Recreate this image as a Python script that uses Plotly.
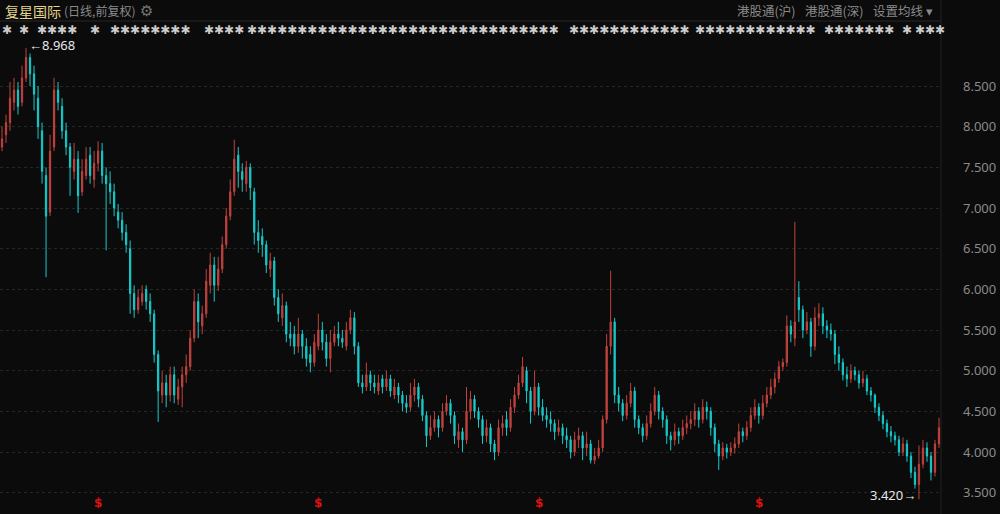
import plotly.graph_objects as go

# ---- data (one candle ≈ 4 trading days) ----
opens = [7.75, 7.90, 8.05, 8.30, 8.45, 8.30, 8.60, 8.85, 8.65, 8.35,
 7.95, 7.40, 6.95, 7.75, 8.45, 8.25, 7.95, 7.75, 7.45, 7.60,
 7.20, 7.40, 7.65, 7.35, 7.55, 7.70, 7.40, 7.30, 7.20, 6.95,
 6.85, 6.70, 6.50, 5.95, 5.75, 5.85, 6.00, 5.85, 5.70, 5.20,
 4.70, 4.85, 4.70, 4.95, 4.65, 4.80, 4.95, 5.05, 5.40, 5.85,
 5.55, 5.70, 6.05, 6.30, 6.05, 6.25, 6.55, 6.90, 7.20, 7.65,
 7.45, 7.30, 7.50, 7.20, 6.70, 6.65, 6.55, 6.25, 6.35, 5.90,
 5.65, 5.80, 5.45, 5.45, 5.30, 5.45, 5.30, 5.20, 5.10, 5.30,
 5.50, 5.35, 5.15, 5.35, 5.45, 5.40, 5.30, 5.50, 5.65, 5.30,
 4.85, 4.80, 4.95, 4.85, 4.75, 4.90, 4.80, 4.90, 4.70, 4.80,
 4.70, 4.60, 4.55, 4.70, 4.80, 4.65, 4.45, 4.20, 4.30, 4.40,
 4.30, 4.50, 4.60, 4.45, 4.15, 4.25, 4.15, 4.50, 4.65, 4.50,
 4.40, 4.20, 4.30, 4.10, 4.00, 4.30, 4.40, 4.30, 4.55, 4.70,
 4.85, 5.00, 4.75, 4.50, 4.80, 4.55, 4.45, 4.40, 4.35, 4.25,
 4.30, 4.20, 4.15, 4.00, 4.15, 4.20, 4.05, 4.10, 3.90, 3.95,
 4.05, 4.40, 5.30, 5.60, 4.70, 4.60, 4.45, 4.60, 4.75, 4.40,
 4.30, 4.20, 4.35, 4.50, 4.70, 4.50, 4.40, 4.20, 4.15, 4.25,
 4.20, 4.30, 4.35, 4.40, 4.50, 4.40, 4.55, 4.50, 4.30, 4.10,
 3.95, 4.05, 4.00, 4.05, 4.10, 4.25, 4.20, 4.30, 4.45, 4.55,
 4.45, 4.60, 4.70, 4.80, 4.90, 5.05, 5.10, 5.55, 5.40, 5.90,
 5.75, 5.50, 5.60, 5.30, 5.65, 5.70, 5.55, 5.50, 5.45, 5.20,
 5.10, 4.95, 4.90, 5.00, 4.95, 4.85, 4.90, 4.75, 4.70, 4.55,
 4.45, 4.35, 4.25, 4.20, 4.15, 4.00, 4.10, 3.95, 3.75, 3.60,
 3.85, 4.05, 3.95, 3.75, 4.10]

highs = [8.00, 8.15, 8.55, 8.60, 8.55, 8.75, 8.968, 8.90, 8.75, 8.50,
 8.05, 7.50, 7.90, 8.60, 8.55, 8.35, 8.05, 7.80, 7.80, 7.70,
 7.60, 7.75, 7.75, 7.70, 7.82, 7.80, 7.50, 7.45, 7.30, 7.05,
 6.95, 6.80, 6.60, 6.05, 6.00, 6.05, 6.05, 5.95, 5.75, 5.25,
 5.00, 4.95, 5.05, 5.05, 4.90, 5.05, 5.20, 5.50, 6.00, 5.95,
 5.80, 6.25, 6.45, 6.40, 6.40, 6.65, 7.00, 7.35, 7.84, 7.75,
 7.55, 7.58, 7.55, 7.25, 6.85, 6.75, 6.60, 6.45, 6.40, 6.00,
 5.95, 5.85, 5.60, 5.55, 5.65, 5.50, 5.40, 5.30, 5.45, 5.70,
 5.60, 5.45, 5.50, 5.55, 5.60, 5.50, 5.60, 5.75, 5.72, 5.35,
 4.95, 5.10, 5.00, 4.95, 4.95, 4.95, 5.00, 4.95, 4.90, 4.85,
 4.75, 4.70, 4.85, 4.90, 4.85, 4.70, 4.50, 4.45, 4.50, 4.45,
 4.60, 4.70, 4.65, 4.50, 4.35, 4.30, 4.80, 4.75, 4.70, 4.55,
 4.45, 4.40, 4.35, 4.15, 4.40, 4.45, 4.50, 4.65, 4.80, 4.95,
 5.17, 5.05, 4.80, 5.00, 4.85, 4.65, 4.55, 4.50, 4.40, 4.40,
 4.35, 4.30, 4.20, 4.25, 4.30, 4.25, 4.25, 4.15, 4.05, 4.15,
 4.45, 5.45, 6.23, 5.65, 4.80, 4.65, 4.70, 4.85, 4.80, 4.45,
 4.35, 4.45, 4.60, 4.80, 4.75, 4.55, 4.45, 4.25, 4.35, 4.30,
 4.40, 4.45, 4.50, 4.60, 4.55, 4.65, 4.62, 4.55, 4.35, 4.15,
 4.12, 4.10, 4.12, 4.18, 4.35, 4.30, 4.38, 4.55, 4.65, 4.60,
 4.70, 4.80, 4.90, 4.98, 5.12, 5.15, 5.68, 5.62, 6.83, 6.10,
 5.80, 5.72, 5.65, 5.78, 5.83, 5.78, 5.62, 5.58, 5.50, 5.30,
 5.15, 5.05, 5.08, 5.05, 5.00, 5.00, 4.95, 4.80, 4.72, 4.60,
 4.50, 4.40, 4.32, 4.25, 4.20, 4.18, 4.15, 4.00, 3.82, 4.08,
 4.15, 4.12, 4.00, 4.15, 4.42]

lows = [7.70, 7.80, 7.95, 8.20, 8.15, 8.25, 8.55, 8.50, 8.20, 7.85,
 7.30, 6.15, 6.90, 7.70, 8.20, 7.85, 7.65, 7.15, 7.35, 6.94,
 7.15, 7.35, 7.30, 7.25, 7.45, 7.30, 6.48, 7.05, 6.90, 6.75,
 6.60, 6.45, 5.70, 5.65, 5.70, 5.80, 5.75, 5.60, 5.10, 4.37,
 4.60, 4.55, 4.62, 4.60, 4.58, 4.55, 4.85, 5.00, 5.35, 5.40,
 5.45, 5.65, 5.95, 5.85, 5.98, 6.20, 6.50, 6.85, 7.15, 7.25,
 7.20, 7.20, 7.10, 6.55, 6.45, 6.40, 6.20, 6.15, 5.80, 5.60,
 5.55, 5.35, 5.30, 5.20, 5.22, 5.15, 5.05, 4.98, 5.05, 5.25,
 5.25, 5.05, 4.98, 5.30, 5.30, 5.28, 5.25, 5.45, 5.20, 4.80,
 4.72, 4.75, 4.75, 4.72, 4.70, 4.72, 4.75, 4.68, 4.65, 4.60,
 4.50, 4.48, 4.50, 4.62, 4.55, 4.38, 4.06, 4.15, 4.25, 4.18,
 4.25, 4.45, 4.35, 4.10, 4.05, 4.00, 4.10, 4.40, 4.42, 4.30,
 4.10, 4.12, 4.00, 3.90, 3.95, 4.20, 4.20, 4.25, 4.48, 4.65,
 4.80, 4.60, 4.35, 4.45, 4.45, 4.38, 4.30, 4.25, 4.15, 4.20,
 4.10, 4.05, 3.92, 3.95, 4.05, 3.90, 3.95, 3.86, 3.85, 3.92,
 4.00, 4.35, 5.20, 4.60, 4.50, 4.38, 4.40, 4.55, 4.30, 4.22,
 4.12, 4.15, 4.30, 4.45, 4.40, 4.30, 4.10, 4.02, 4.08, 4.10,
 4.15, 4.22, 4.28, 4.32, 4.30, 4.35, 4.40, 4.20, 4.00, 3.78,
 3.90, 3.92, 3.95, 3.98, 4.05, 4.12, 4.15, 4.25, 4.40, 4.35,
 4.40, 4.55, 4.65, 4.72, 4.85, 5.00, 5.05, 5.35, 5.30, 5.60,
 5.40, 5.45, 5.17, 5.25, 5.55, 5.45, 5.40, 5.37, 5.08, 5.00,
 4.88, 4.80, 4.85, 4.88, 4.78, 4.80, 4.70, 4.62, 4.48, 4.38,
 4.28, 4.18, 4.12, 4.08, 3.95, 3.95, 3.88, 3.68, 3.55, 3.42,
 3.80, 3.88, 3.65, 3.70, 4.05]

closes = [7.85, 8.05, 8.35, 8.45, 8.25, 8.60, 8.85, 8.65, 8.40, 8.00,
 7.45, 6.90, 7.70, 8.45, 8.30, 7.95, 7.75, 7.50, 7.60, 7.15,
 7.45, 7.60, 7.40, 7.55, 7.70, 7.40, 7.30, 7.20, 7.00, 6.85,
 6.70, 6.55, 5.95, 5.75, 5.90, 5.95, 5.85, 5.70, 5.20, 4.75,
 4.85, 4.70, 4.95, 4.70, 4.80, 4.95, 5.05, 5.40, 5.85, 5.60,
 5.70, 6.10, 6.30, 6.05, 6.25, 6.55, 6.90, 7.20, 7.60, 7.45,
 7.35, 7.50, 7.25, 6.70, 6.60, 6.55, 6.30, 6.35, 5.90, 5.70,
 5.80, 5.45, 5.40, 5.30, 5.45, 5.30, 5.15, 5.10, 5.35, 5.50,
 5.35, 5.15, 5.35, 5.45, 5.40, 5.35, 5.50, 5.65, 5.30, 4.85,
 4.80, 4.95, 4.85, 4.80, 4.85, 4.80, 4.90, 4.75, 4.80, 4.70,
 4.60, 4.55, 4.70, 4.80, 4.65, 4.45, 4.20, 4.30, 4.40, 4.30,
 4.50, 4.60, 4.45, 4.20, 4.25, 4.15, 4.50, 4.65, 4.50, 4.40,
 4.20, 4.30, 4.10, 4.00, 4.30, 4.35, 4.30, 4.55, 4.70, 4.85,
 5.05, 4.75, 4.50, 4.80, 4.55, 4.45, 4.40, 4.35, 4.25, 4.30,
 4.20, 4.15, 4.00, 4.15, 4.20, 4.05, 4.10, 3.90, 3.95, 4.05,
 4.40, 5.30, 5.60, 4.70, 4.60, 4.45, 4.60, 4.75, 4.40, 4.30,
 4.20, 4.35, 4.50, 4.70, 4.50, 4.40, 4.20, 4.15, 4.25, 4.20,
 4.30, 4.35, 4.40, 4.50, 4.40, 4.55, 4.50, 4.30, 4.10, 3.95,
 4.05, 4.00, 4.05, 4.10, 4.25, 4.20, 4.30, 4.45, 4.55, 4.45,
 4.60, 4.70, 4.80, 4.90, 5.05, 5.10, 5.55, 5.45, 5.60, 5.75,
 5.50, 5.60, 5.30, 5.65, 5.70, 5.55, 5.50, 5.45, 5.20, 5.10,
 4.95, 4.90, 5.00, 4.95, 4.85, 4.90, 4.75, 4.70, 4.55, 4.45,
 4.35, 4.25, 4.20, 4.15, 4.00, 4.10, 3.95, 3.75, 3.60, 3.85,
 4.05, 3.95, 3.75, 4.10, 4.30]

y_ticks = [3.5, 4.0, 4.5, 5.0, 5.5, 6.0, 6.5, 7.0, 7.5, 8.0, 8.5]
dividend_idx = [24, 79, 134, 189]          # red "$" markers
max_price, max_idx = 8.968, 6
min_price, min_idx = 3.420, 229

title_name = "复星国际"
title_sub = "(日线,前复权)"
right_menu = ["港股通(沪)", "港股通(深)", "设置均线 ▾"]

# ---- styling ----
BG = "#0b0b0b"
UP = "#c0433e"
DOWN = "#18caca"
GRID = "#262626"
LABEL = "#8a8a8a"

N = len(closes)
xs = list(range(N))

fig = go.Figure()
fig.add_trace(go.Candlestick(
    x=xs, open=opens, high=highs, low=lows, close=closes,
    increasing=dict(line=dict(color=UP, width=1), fillcolor=UP),
    decreasing=dict(line=dict(color=DOWN, width=1), fillcolor=DOWN),
    whiskerwidth=0, showlegend=False, hoverinfo="skip",
))

W, H = 1000, 514
ML, MR, MT, MB = 0, 59, 40, 0
PW = W - ML - MR
PH = H - MT - MB


def px_x(p):
    return (p - ML) / PW


def px_y(p):
    return (H - MB - p) / PH


fig.update_layout(
    width=W, height=H,
    margin=dict(l=ML, r=MR, t=MT, b=MB),
    paper_bgcolor=BG, plot_bgcolor=BG,
    showlegend=False,
    boxgap=0.55,
    hovermode=False,
    xaxis=dict(range=[-0.5, N - 0.5], showgrid=False, zeroline=False,
               showticklabels=False, rangeslider=dict(visible=False),
               fixedrange=True),
    yaxis=dict(side="right", range=[3.238, 9.066], tickvals=y_ticks,
               ticktext=[f"{v:.3f}" for v in y_ticks],
               tickfont=dict(color=LABEL, size=13, family="Noto Sans"),
               showgrid=True, gridcolor=GRID, griddash="dot", gridwidth=1,
               zeroline=False, showline=False, ticks="",
               ticklabelstandoff=21, fixedrange=True),
    font=dict(family="Noto Sans CJK SC"),
)

shapes = []
shapes.append(dict(type="line", xref="paper", yref="paper",
                   x0=px_x(941), x1=px_x(941), y0=0, y1=px_y(0),
                   line=dict(color="#222222", width=1)))
shapes.append(dict(type="line", xref="paper", yref="paper",
                   x0=0, x1=px_x(941), y0=px_y(21), y1=px_y(21),
                   line=dict(color="#262626", width=1)))
fig.update_layout(shapes=shapes)

ann = []
ann.append(dict(text=title_name, xref="paper", yref="paper", x=px_x(3), y=px_y(11),
                xanchor="left", yanchor="middle", showarrow=False,
                font=dict(color="#e3d48c", size=14, family="Noto Sans CJK SC")))
ann.append(dict(text=title_sub, xref="paper", yref="paper", x=px_x(62), y=px_y(11),
                xanchor="left", yanchor="middle", showarrow=False,
                font=dict(color=LABEL, size=12, family="Noto Sans CJK SC")))
ann.append(dict(text="⚙", xref="paper", yref="paper", x=px_x(138), y=px_y(11),
                xanchor="left", yanchor="middle", showarrow=False,
                font=dict(color="#777777", size=15, family="DejaVu Sans")))
menu_x = [735, 803, 871]
for t, mx in zip(right_menu, menu_x):
    ann.append(dict(text=t, xref="paper", yref="paper", x=px_x(mx), y=px_y(10),
                    xanchor="left", yanchor="middle", showarrow=False,
                    font=dict(color=LABEL, size=12.5, family="Noto Sans CJK SC")))

# row of obfuscated event markers
star_segments = [(0, 1), (17, 1), (35, 4), (88, 1), (108, 8), (202, 4),
                 (245, 31), (567, 12), (693, 12), (822, 7),
                 (900, 1), (913, 3)]
for sx, n in star_segments:
    ann.append(dict(text="✱" * n, xref="paper", yref="paper", x=px_x(sx), y=px_y(30),
                    xanchor="left", yanchor="middle", showarrow=False,
                    font=dict(color="#cccccc", size=12, family="DejaVu Sans")))

# max / min labels
ann.append(dict(text="←" + f"{max_price:.3f}", xref="x", yref="y", x=max_idx + 0.3,
                y=max_price, xanchor="left", yanchor="middle", yshift=3,
                showarrow=False, font=dict(color="#e6e6e6", size=13, family="Noto Sans")))
ann.append(dict(text=f"{min_price:.3f}" + "→", xref="x", yref="y", x=min_idx - 0.3,
                y=min_price, xanchor="right", yanchor="middle", yshift=4,
                showarrow=False, font=dict(color="#e6e6e6", size=13, family="Noto Sans")))

for di in dividend_idx:
    ann.append(dict(text="<b>$</b>", xref="x", yref="paper", x=di, y=px_y(503),
                    xanchor="center", yanchor="middle", showarrow=False,
                    font=dict(color="#e01010", size=12, family="DejaVu Sans")))

fig.update_layout(annotations=ann)
fig.write_html("out.html",
               config={"displayModeBar": False, "staticPlot": True},
               post_script="document.body.style.margin='0';document.body.style.overflow='hidden';")
